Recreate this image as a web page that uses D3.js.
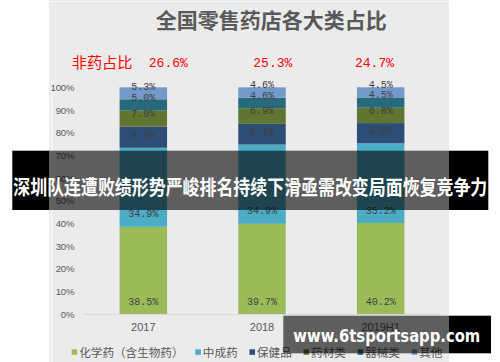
<!DOCTYPE html>
<html><head><meta charset="utf-8">
<script src="https://cdn.jsdelivr.net/npm/d3@7"></script>
<style>
html,body{margin:0;padding:0;background:#fff;}
svg{display:block;}
</style></head>
<body>
<svg id="chart" width="500" height="362"></svg>
<script>
// ---- data ----
const categories = ["2017", "2018", "2019H1"];
const seriesNames = ["化学药（含生物药）", "中成药", "保健品", "药材类", "器械类", "其他"];
const chemical = [38.5, 39.7, 40.2];
const tcm = [34.9, 34.9, 35.2];
const health = [9.4, 9.1, 8.9];
const herbs = [7.0, 6.9, 6.8];
const devices = [5.0, 4.6, 4.5];
const others = [5.3, 4.6, 4.5];
const nonDrug = ["26.6%", "25.3%", "24.7%"];
const yTicks = [0, 0.1, 0.2, 0.3, 0.4, 0.5, 0.6, 0.7, 0.8, 0.9, 1.0];
const colors = ["#9bbb59", "#4bacc6", "#2c4d75", "#5f7530", "#276a7c", "#7299c8"];
const titleText = "全国零售药店各大类占比";
const bannerText = "深圳队连遭败绩形势严峻排名持续下滑亟需改变局面恢复竞争力";
const watermarkText = "www.6tsportsapp.com";

const seriesValues = [chemical, tcm, health, herbs, devices, others];
const rows = categories.map((c, i) => {
  const r = {cat: c};
  seriesNames.forEach((s, k) => r[s] = seriesValues[k][i]);
  return r;
});

const svg = d3.select("#chart");
const cjk = "'Noto Sans CJK SC','Noto Sans',sans-serif";

// chart background
const bg = {x0: 49, x1: 449};
svg.append("rect").attr("x", bg.x0).attr("y", 0).attr("width", bg.x1 - bg.x0).attr("height", 362).attr("fill", "#ebebeb");
svg.append("line").attr("x1", bg.x0).attr("x2", bg.x1).attr("y1", 1.5).attr("y2", 1.5).attr("stroke", "#f7f7f7").attr("stroke-width", 1.2);
svg.append("line").attr("x1", 52).attr("x2", 52).attr("y1", 80).attr("y2", 362).attr("stroke", "#fafafa").attr("stroke-width", 1.2);

// scales
const plot = {left: 84, right: 440, top: 87.3, bottom: 314};
const x = d3.scaleBand().domain(categories).range([plot.left, plot.right]).paddingInner(0.6).paddingOuter(0.3);
const y = d3.scaleLinear().domain([0, 1]).range([plot.bottom, plot.top]);

const stack = d3.stack().keys(seriesNames).offset(d3.stackOffsetExpand);
const stacked = stack(rows);

// bars
const g = svg.append("g");
stacked.forEach((layer, k) => {
  g.selectAll(null).data(layer).enter().append("rect")
    .attr("x", d => x(d.data.cat))
    .attr("width", x.bandwidth())
    .attr("y", d => y(d[1]))
    .attr("height", d => y(d[0]) - y(d[1]))
    .attr("fill", colors[k]);
});

// labels (inside base)
stacked.forEach((layer, k) => {
  g.selectAll(null).data(layer).enter().append("text")
    .attr("x", d => x(d.data.cat) + x.bandwidth() / 2)
    .attr("y", d => y(d[0]) - 13 + 3.6)
    .attr("text-anchor", "middle")
    .attr("font-family", "'Liberation Mono','DejaVu Sans Mono',monospace")
    .attr("font-size", 10)
    .attr("fill", "#404040")
    .text(d => d.data[seriesNames[k]].toFixed(1) + "%");
});

// y axis
const yAxis = svg.append("g").attr("transform", `translate(${plot.left},0)`)
  .call(d3.axisLeft(y).tickValues(yTicks).tickFormat(d3.format(".0%")).tickSize(0).tickPadding(9.7));
yAxis.select(".domain").remove();
yAxis.selectAll("text").attr("font-family", "'Liberation Sans',Arial,sans-serif").attr("font-size", 9.6)
  .attr("letter-spacing", "-0.2").attr("fill", "#595959");

// x axis
const xAxis = svg.append("g").attr("transform", `translate(0,${plot.bottom})`)
  .call(d3.axisBottom(x).tickSize(0).tickPadding(8.8));
xAxis.select(".domain").attr("stroke", "#d9d9d9").attr("stroke-width", 1)
  .attr("d", `M${plot.left - 0.7},0.5H${plot.right}`);
xAxis.selectAll("text").attr("font-family", "'Liberation Sans',Arial,sans-serif").attr("font-size", 11).attr("fill", "#595959");

// title
svg.append("text").attr("x", 271.3).attr("y", 28).attr("text-anchor", "middle")
  .attr("font-family", cjk).attr("font-weight", "bold").attr("font-size", 21).attr("fill", "#595959")
  .text(titleText);

// non-drug annotation
svg.append("text").attr("x", 71.7).attr("y", 67.8).attr("font-family", cjk).attr("font-size", 15.2)
  .attr("fill", "#ff0000").text("非药占比");
const annX = [168.3, 272.8, 374.5];
nonDrug.forEach((t, i) => {
  svg.append("text").attr("x", annX[i]).attr("y", 67).attr("text-anchor", "middle")
    .attr("font-family", "'Liberation Mono','DejaVu Sans Mono',monospace").attr("font-size", 13)
    .attr("fill", "#ff0000").text(t);
});

// legend
let lx = 71.7;
const legend = svg.append("g");
seriesNames.forEach((s, k) => {
  legend.append("rect").attr("x", lx).attr("y", 349.3).attr("width", 5.5).attr("height", 5.5).attr("fill", colors[k]);
  const t = legend.append("text").attr("x", lx + 7.5).attr("y", 356.6)
    .attr("font-family", cjk).attr("font-size", 11.6).attr("fill", "#595959").text(s);
  lx += 7.5 + t.node().getComputedTextLength() + 11.8;
});

// banner overlay
const ban = {y0: 150.7, y1: 210, x0: 12.3, x1: 488.3};
svg.append("rect").attr("x", ban.x0).attr("y", ban.y0).attr("width", bg.x0 - ban.x0).attr("height", ban.y1 - ban.y0).attr("fill", "#000");
svg.append("rect").attr("x", bg.x1).attr("y", ban.y0).attr("width", ban.x1 - bg.x1).attr("height", ban.y1 - ban.y0).attr("fill", "#000");
svg.append("rect").attr("x", bg.x0).attr("y", ban.y0).attr("width", bg.x1 - bg.x0).attr("height", ban.y1 - ban.y0).attr("fill", "#000").attr("opacity", 0.6);
svg.append("text").attr("x", ban.x0 + 1).attr("y", 195).attr("font-family", cjk).attr("font-weight", "bold")
  .attr("font-size", 20.4).attr("fill", "#fff").attr("textLength", 474).attr("lengthAdjust", "spacingAndGlyphs")
  .text(bannerText);

// watermark
const wm = {x0: 283.3, x1: 491, y0: 315.7, y1: 353.3};
svg.append("rect").attr("x", wm.x0).attr("y", wm.y0).attr("width", bg.x1 - wm.x0).attr("height", wm.y1 - wm.y0).attr("fill", "#000").attr("opacity", 0.6);
svg.append("rect").attr("x", bg.x1).attr("y", wm.y0).attr("width", wm.x1 - bg.x1).attr("height", wm.y1 - wm.y0).attr("fill", "#000");
svg.append("text").attr("x", 293.3).attr("y", 341.5).attr("font-family", "'DejaVu Sans','Liberation Sans',sans-serif").attr("font-weight", "bold")
  .attr("font-size", 17.5).attr("fill", "#fff").attr("textLength", 187).attr("lengthAdjust", "spacingAndGlyphs")
  .text(watermarkText);
</script>
</body></html>
